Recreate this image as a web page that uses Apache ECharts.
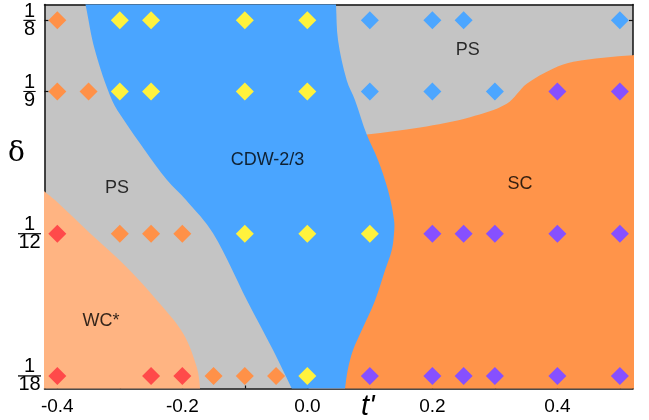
<!DOCTYPE html>
<html>
<head>
<meta charset="utf-8">
<script src="https://cdn.jsdelivr.net/npm/echarts@6/dist/echarts.min.js"></script>
<style>
  html, body { margin: 0; padding: 0; background: #fff; }
  #chart { width: 649px; height: 420px; }
</style>
</head>
<body>
<div id="chart"></div>
<script>
// Axis extents (t' horizontally, doping delta vertically)
const T_MIN = -0.4205, T_MAX = 0.521;
const D_MIN = 0.0531, D_MAX = 0.1281;
const tLabelTicks = [-0.4, -0.2, 0.0, 0.2, 0.4];
const tMinorTicks = [-0.3, -0.1, 0.1, 0.3, 0.5];
const deltaDenoms = [18, 12, 9, 8];
const deltaTicks = deltaDenoms.map(d => 1 / d);

// Simulated points, grouped by phase found
const wcPoints = [[-0.4, 1/12], [-0.4, 1/18], [-0.25, 1/18], [-0.2, 1/18]];
const psLowPoints = [
  [-0.4, 1/8], [-0.4, 1/9], [-0.35, 1/9],
  [-0.3, 1/12], [-0.25, 1/12], [-0.2, 1/12],
  [-0.15, 1/18], [-0.1, 1/18], [-0.05, 1/18]
];
const cdwPoints = [
  [-0.3, 1/8], [-0.25, 1/8], [-0.1, 1/8], [0.0, 1/8],
  [-0.3, 1/9], [-0.25, 1/9], [-0.1, 1/9], [0.0, 1/9],
  [-0.1, 1/12], [0.0, 1/12], [0.1, 1/12],
  [0.0, 1/18]
];
const psHighPoints = [
  [0.1, 1/8], [0.2, 1/8], [0.25, 1/8], [0.5, 1/8],
  [0.1, 1/9], [0.2, 1/9], [0.3, 1/9]
];
const scPoints = [
  [0.4, 1/9], [0.5, 1/9],
  [0.2, 1/12], [0.25, 1/12], [0.3, 1/12], [0.4, 1/12], [0.5, 1/12],
  [0.1, 1/18], [0.2, 1/18], [0.25, 1/18], [0.3, 1/18], [0.4, 1/18], [0.5, 1/18]
];

// Phase boundaries in (t', delta); they run a little past the frame and get clipped
const wcBoundary = [
  [-0.44, 0.0936], [-0.4205, 0.0916], [-0.4037, 0.0899], [-0.3477, 0.0834],
  [-0.2890, 0.0768], [-0.2405, 0.0703], [-0.1989, 0.0639], [-0.1770, 0.0573],
  [-0.1717, 0.0531], [-0.1705, 0.0480], [-0.44, 0.0480]
];
const scBoundary = [
  [0.56, 0.1182], [0.5211, 0.1182], [0.4736, 0.1177], [0.4256, 0.1169],
  [0.3936, 0.1156], [0.3510, 0.1126], [0.3190, 0.1087], [0.2603, 0.1061],
  [0.1803, 0.1041], [0.0950, 0.1027], [0.0400, 0.1018],
  [0.0300, 0.0480], [0.56, 0.0480]
];
const cdwBoundary = [
  // left edge, top to bottom
  [-0.3615, 0.1320], [-0.3546, 0.1279], [-0.3397, 0.1191], [-0.3125, 0.1094],
  [-0.2933, 0.1055], [-0.2597, 0.0996], [-0.2245, 0.0938], [-0.1941, 0.0899],
  [-0.1509, 0.0834], [-0.0965, 0.0703], [-0.0549, 0.0606], [-0.0250, 0.0531],
  [-0.0047, 0.0480],
  // right edge, bottom to top
  [0.0542, 0.0480], [0.0603, 0.0531], [0.0646, 0.0567], [0.0731, 0.0606],
  [0.0870, 0.0645], [0.1083, 0.0703], [0.1243, 0.0762], [0.1350, 0.0801],
  [0.1387, 0.0834], [0.1387, 0.0860], [0.1291, 0.0918], [0.1131, 0.0977],
  [0.0950, 0.1027], [0.0763, 0.1094], [0.0630, 0.1133], [0.0491, 0.1211],
  [0.0459, 0.1279], [0.0440, 0.1320]
];

// Phase names placed inside their regions: [t', delta, name]
const regionLabels = [
  [-0.3045, 0.0922, 'PS'],
  [-0.0637, 0.0977, 'CDW-2/3'],
  [0.2566, 0.1193, 'PS'],
  [0.3403, 0.0930, 'SC'],
  [-0.3300, 0.0663, 'WC*']
];

const regionBoundaries = [wcBoundary, scBoundary, cdwBoundary];
const regionFills = ['#FFB482', '#FF944A', '#4AA5FF'];

const FONT = 'Liberation Sans, Arial, Helvetica, sans-serif';
const FRAME = '#111';

function fractionLabel(v) {
  let d = deltaDenoms.find(x => Math.abs(1 / x - v) < 1e-6);
  if (!d) return '';
  const bar = d >= 10 ? 'hl' : 'hs';
  return '{n|1}\n{' + bar + '|}\n{d|' + d + '}';
}

const chart = echarts.init(document.getElementById('chart'), null, { renderer: 'canvas' });

const diamond = (name, data, color) => ({
  name, type: 'scatter', data,
  symbol: 'diamond', symbolSize: 18,
  itemStyle: { color, opacity: 1 },
  z: 5, silent: true
});

chart.setOption({
  animation: false,
  backgroundColor: '#fff',
  grid: {
    left: 44.5, top: 4.5, right: 16, bottom: 31.5,
    show: true, backgroundColor: '#C4C4C4', borderWidth: 0
  },
  xAxis: [
    {
      type: 'value', min: T_MIN, max: T_MAX, position: 'bottom',
      axisLine: { show: true, onZero: false, lineStyle: { color: FRAME, width: 1.5 } },
      axisTick: { show: true, inside: true, length: 6, customValues: tLabelTicks, lineStyle: { color: FRAME, width: 1.2 } },
      axisLabel: {
        show: true, customValues: tLabelTicks, margin: 9,
        formatter: v => v.toFixed(1),
        fontFamily: FONT, fontSize: 19, color: '#000'
      },
      splitLine: { show: false }
    },
    {
      type: 'value', min: T_MIN, max: T_MAX, position: 'bottom',
      axisLine: { show: false },
      axisTick: { show: true, inside: true, length: 3, customValues: tMinorTicks, lineStyle: { color: FRAME, width: 1.2 } },
      axisLabel: { show: false },
      splitLine: { show: false }
    },
    {
      type: 'value', min: T_MIN, max: T_MAX, position: 'top',
      axisLine: { show: true, onZero: false, lineStyle: { color: FRAME, width: 1.5 } },
      axisTick: { show: false }, axisLabel: { show: false }, splitLine: { show: false }
    }
  ],
  yAxis: [
    {
      type: 'value', min: D_MIN, max: D_MAX, position: 'left',
      axisLine: { show: true, onZero: false, lineStyle: { color: FRAME, width: 1.5 } },
      axisTick: { show: true, inside: true, length: 4, customValues: deltaTicks, lineStyle: { color: FRAME, width: 1.2 } },
      axisLabel: {
        show: true, customValues: deltaTicks, margin: 15, align: 'center', verticalAlign: 'middle',
        formatter: fractionLabel,
        rich: {
          n: { fontFamily: FONT, fontSize: 20, lineHeight: 18, color: '#000', align: 'center' },
          d: { fontFamily: FONT, fontSize: 20, lineHeight: 18, color: '#000', align: 'center' },
          hs: { width: 12, height: 0, borderColor: '#000', borderWidth: 0.8, align: 'center' },
          hl: { width: 23, height: 0, borderColor: '#000', borderWidth: 0.8, align: 'center' }
        }
      },
      splitLine: { show: false }
    },
    {
      type: 'value', min: D_MIN, max: D_MAX, position: 'right',
      axisLine: { show: true, onZero: false, lineStyle: { color: FRAME, width: 1.5 } },
      axisTick: { show: true, inside: true, length: 4, customValues: deltaTicks, lineStyle: { color: FRAME, width: 1.2 } },
      axisLabel: { show: false }, splitLine: { show: false }
    }
  ],
  graphic: [
    {
      type: 'text', left: 8, top: 140, z: 10,
      style: { text: 'δ', fontFamily: 'DejaVu Serif, serif', fontSize: 28, fill: '#000' }
    },
    {
      type: 'text', left: 361, top: 392, z: 10,
      style: { text: "t'", fontFamily: FONT, fontStyle: 'italic', fontSize: 29, fill: '#000' }
    }
  ],
  series: [
    {
      name: 'phases', type: 'custom', clip: true, silent: true, z: 1,
      xAxisIndex: 0, yAxisIndex: 0,
      data: regionBoundaries.map(() => [0, 0.09]),
      renderItem: (params, api) => {
        const pts = regionBoundaries[params.dataIndex].map(p => api.coord(p));
        return {
          type: 'polygon',
          shape: { points: pts, smooth: 0.35 },
          style: { fill: regionFills[params.dataIndex], stroke: null }
        };
      }
    },
    {
      name: 'labels', type: 'scatter', symbolSize: 0, silent: true, z: 6,
      data: regionLabels.map(r => ({ value: [r[0], r[1]], name: r[2] })),
      label: {
        show: true, position: 'inside', formatter: p => p.name,
        fontFamily: FONT, fontSize: 18, color: '#000'
      }
    },
    diamond('WC*', wcPoints, '#FF4A4A'),
    diamond('PS', psLowPoints, '#FF9148'),
    diamond('CDW-2/3', cdwPoints, '#FFF23D'),
    diamond('PS high', psHighPoints, '#4CA6FF'),
    diamond('SC', scPoints, '#8650FF')
  ]
});
</script>
</body>
</html>
